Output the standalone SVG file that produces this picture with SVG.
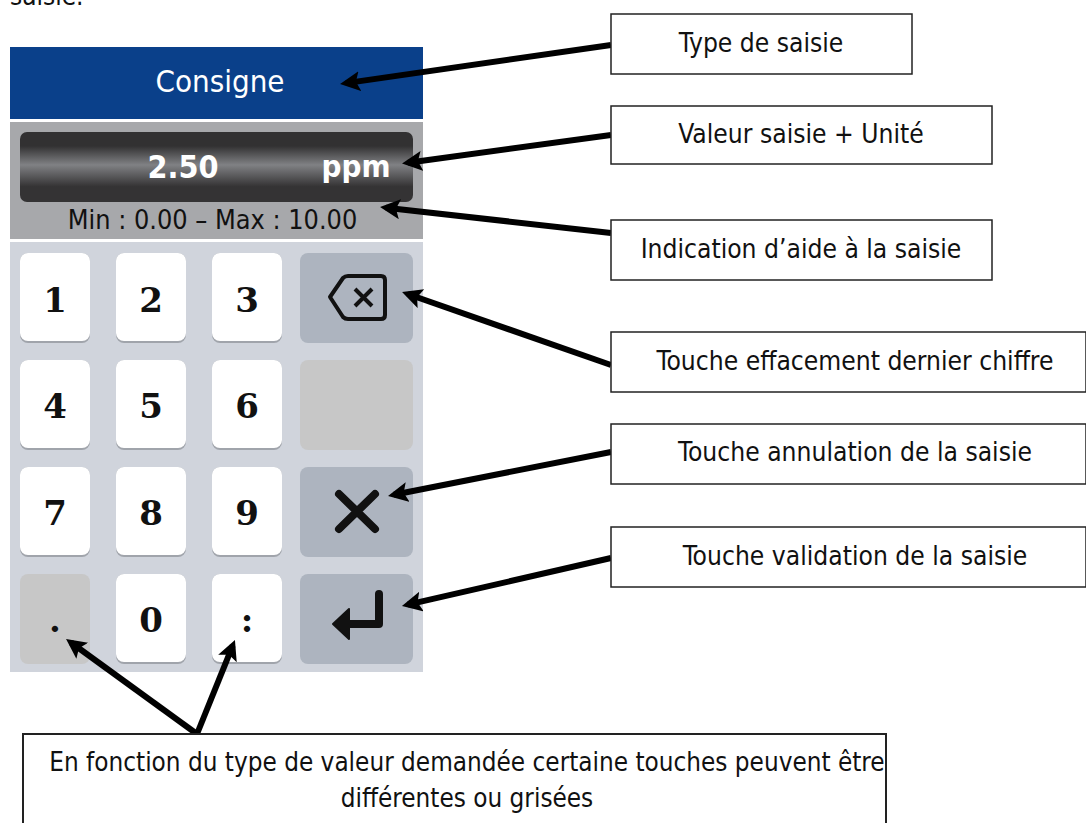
<svg xmlns="http://www.w3.org/2000/svg" width="1086" height="823" viewBox="0 0 1086 823">
<style>
.t{font-family:"DejaVu Sans Condensed","DejaVu Sans",sans-serif;font-stretch:condensed;font-size:26.2px;fill:#111;text-anchor:middle}
.l{font-family:"DejaVu Sans Condensed","DejaVu Sans",sans-serif;font-stretch:condensed}
.box{fill:#fff;stroke:#222;stroke-width:1.5}
.k{fill:#fff}
.kb{fill:#a0a4ab}
.g{fill:#adb4bf}
.d{fill:#c7c7c7}
.n{font-family:"DejaVu Serif",serif;font-weight:700;font-size:34px;fill:#111;text-anchor:middle}
.c{stroke:#000;stroke-width:6;fill:none}
</style>
<defs>
<linearGradient id="bar" x1="0" y1="0" x2="0" y2="1"><stop offset="0.2" stop-color="#323132"/><stop offset="0.47" stop-color="#808184"/><stop offset="0.78" stop-color="#343334"/></linearGradient>
<marker id="a" markerUnits="userSpaceOnUse" markerWidth="24" markerHeight="22" refX="14" refY="10" orient="auto"><path d="M0 0L20 10L0 20L4 10Z" fill="#000"/></marker>
</defs>
<text class="l" x="10" y="5" font-size="26" fill="#111">saisie.</text>
<g id="screen">
<rect x="10" y="47" width="413" height="72" fill="#0a408a"/>
<text class="l" x="220" y="92" text-anchor="middle" font-size="31" fill="#fff">Consigne</text>
<rect x="10" y="122" width="413" height="117" fill="#a7a8ab"/>
<rect x="20" y="132" width="393" height="70" rx="7" fill="url(#bar)"/>
<text class="l" x="183" y="178" text-anchor="middle" font-size="32" font-weight="700" fill="#fff">2.50</text>
<text class="l" x="356" y="177" text-anchor="middle" font-size="31" font-weight="700" fill="#fff">ppm</text>
<text class="t" x="212.5" y="229" style="font-size:26.8px">Min : 0.00 – Max : 10.00</text>
<rect x="10" y="242" width="413" height="430" fill="#d0d4dc"/>
</g>
<g id="keys">
<rect class="kb" x="20" y="253" width="70" height="90" rx="8"/><rect class="k" x="20" y="253" width="70" height="88" rx="8"/><text class="n" x="55" y="311.5">1</text>
<rect class="kb" x="116" y="253" width="70" height="90" rx="8"/><rect class="k" x="116" y="253" width="70" height="88" rx="8"/><text class="n" x="151" y="311.5">2</text>
<rect class="kb" x="212" y="253" width="70" height="90" rx="8"/><rect class="k" x="212" y="253" width="70" height="88" rx="8"/><text class="n" x="247" y="311.5">3</text>
<rect class="g" x="300" y="253" width="113" height="90" rx="8"/>
<path d="M330 297L343 278Q345 276 348 276H381Q385 276 385 280V315Q385 319 381 319H348Q345 319 343 317Z" fill="none" stroke="#111" stroke-width="4" stroke-linejoin="round"/>
<path d="M355 289L372 306M372 289L355 306" stroke="#111" stroke-width="4"/>
<rect class="kb" x="20" y="360" width="70" height="90" rx="8"/><rect class="k" x="20" y="360" width="70" height="88" rx="8"/><text class="n" x="55" y="418">4</text>
<rect class="kb" x="116" y="360" width="70" height="90" rx="8"/><rect class="k" x="116" y="360" width="70" height="88" rx="8"/><text class="n" x="151" y="418">5</text>
<rect class="kb" x="212" y="360" width="70" height="90" rx="8"/><rect class="k" x="212" y="360" width="70" height="88" rx="8"/><text class="n" x="247" y="418">6</text>
<rect class="d" x="300" y="360" width="113" height="90" rx="8"/>
<rect class="kb" x="20" y="467" width="70" height="90" rx="8"/><rect class="k" x="20" y="467" width="70" height="88" rx="8"/><text class="n" x="55" y="525">7</text>
<rect class="kb" x="116" y="467" width="70" height="90" rx="8"/><rect class="k" x="116" y="467" width="70" height="88" rx="8"/><text class="n" x="151" y="525">8</text>
<rect class="kb" x="212" y="467" width="70" height="90" rx="8"/><rect class="k" x="212" y="467" width="70" height="88" rx="8"/><text class="n" x="247" y="525">9</text>
<rect class="g" x="300" y="467" width="113" height="90" rx="8"/>
<path d="M339 494L375 529M375 494L339 529" stroke="#111" stroke-width="8" stroke-linecap="round"/>
<rect class="d" x="20" y="574" width="70" height="90" rx="8"/><text class="n" x="55" y="632">.</text>
<rect class="kb" x="116" y="574" width="70" height="90" rx="8"/><rect class="k" x="116" y="574" width="70" height="88" rx="8"/><text class="n" x="151" y="632">0</text>
<rect class="kb" x="212" y="574" width="70" height="90" rx="8"/><rect class="k" x="212" y="574" width="70" height="88" rx="8"/><text class="n" x="247" y="632">:</text>
<rect class="g" x="300" y="574" width="113" height="90" rx="8"/>
<path d="M379 594V624H345" fill="none" stroke="#111" stroke-width="8" stroke-linecap="round" stroke-linejoin="round"/>
<path d="M333 624L349 609V639Z" fill="#111" stroke="#111" stroke-width="2" stroke-linejoin="round"/>
</g>
<g id="connectors">
<path class="c" marker-end="url(#a)" d="M611 45L346 83.1"/>
<path class="c" marker-end="url(#a)" d="M611 135L408 162.7"/>
<path class="c" marker-end="url(#a)" d="M611 233L386 207.7"/>
<path class="c" marker-end="url(#a)" d="M611 365L407.7 294"/>
<path class="c" marker-end="url(#a)" d="M611 452L393.9 494.8"/>
<path class="c" marker-end="url(#a)" d="M611 558L407.8 604.7"/>
<path class="c" marker-end="url(#a)" d="M197 734L70.9 642.5"/>
<path class="c" marker-end="url(#a)" d="M197 734L232.7 645.6"/>
</g>
<g id="n1"><rect class="box" x="611" y="14" width="301" height="60"/><text class="t" x="761" y="52">Type de saisie</text></g>
<g id="n2"><rect class="box" x="611" y="106" width="381" height="58"/><text class="t" x="801" y="143">Valeur saisie + Unité</text></g>
<g id="n3"><rect class="box" x="611" y="220" width="381" height="60"/><text class="t" x="801" y="258">Indication d’aide à la saisie</text></g>
<g id="n4"><rect class="box" x="611" y="332" width="475" height="60"/><text class="t" x="855" y="370">Touche effacement dernier chiffre</text></g>
<g id="n5"><rect class="box" x="611" y="424" width="475" height="60"/><text class="t" x="855" y="461">Touche annulation de la saisie</text></g>
<g id="n6"><rect class="box" x="611" y="527" width="475" height="60"/><text class="t" x="855" y="565">Touche validation de la saisie</text></g>
<g id="n7"><rect class="box" x="23" y="734" width="863" height="95" style="stroke-width:2"/><text class="t" x="467" y="771" style="font-size:25.85px">En fonction du type de valeur demandée certaine touches peuvent être</text><text class="t" x="467" y="807" style="font-size:25.85px">différentes ou grisées</text></g>
</svg>
